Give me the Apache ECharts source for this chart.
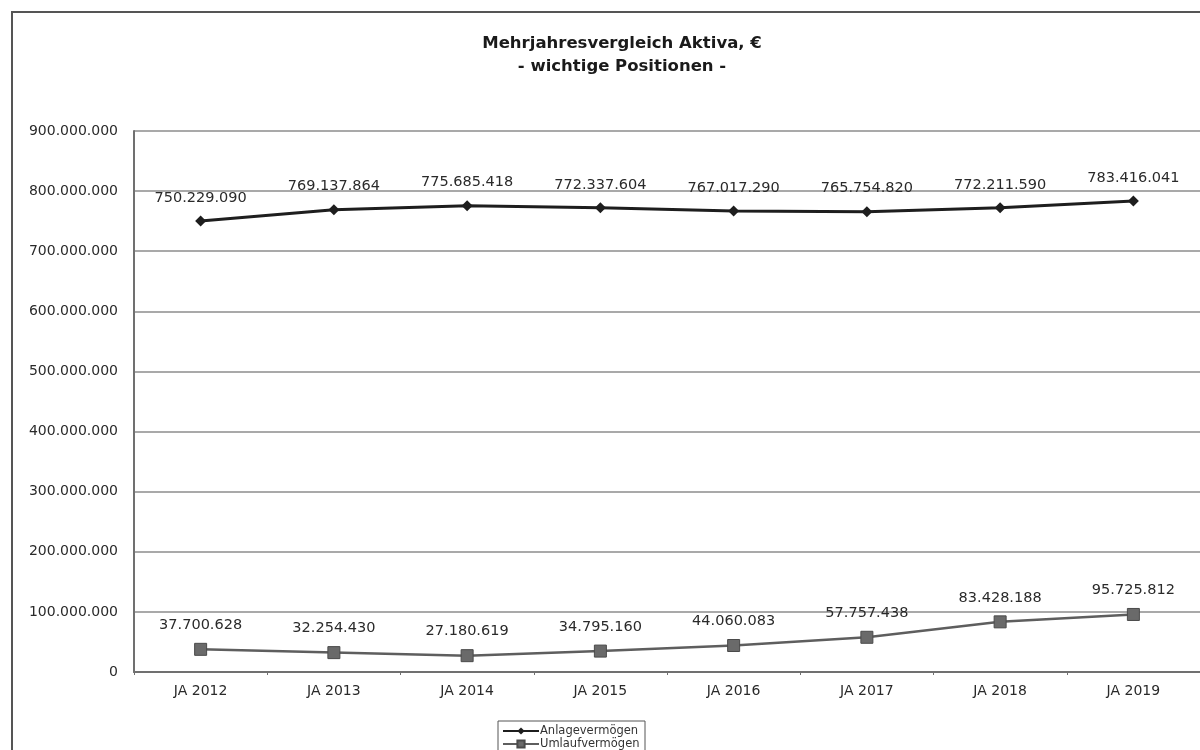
<!DOCTYPE html>
<html>
<head>
<meta charset="utf-8">
<script src="https://cdn.jsdelivr.net/npm/echarts@6/dist/echarts.min.js"></script>
<style>
  html, body { margin: 0; padding: 0; background: #fff; }
  #chart { width: 1200px; height: 750px; }
</style>
</head>
<body>
<div id="chart"></div>
<script>
// Jahresabschlüsse 2012–2019
const categories = ['JA 2012', 'JA 2013', 'JA 2014', 'JA 2015', 'JA 2016', 'JA 2017', 'JA 2018', 'JA 2019'];
const anlagevermoegen = [750229090, 769137864, 775685418, 772337604, 767017290, 765754820, 772211590, 783416041];
const umlaufvermoegen = [37700628, 32254430, 27180619, 34795160, 44060083, 57757438, 83428188, 95725812];
const seriesNames = ['Anlagevermögen', 'Umlaufvermögen'];
const titleLines = ['Mehrjahresvergleich Aktiva, €', '- wichtige Positionen -'];

// German thousands separator
function fmt(v) {
  return String(Math.round(v)).replace(/\B(?=(\d{3})+(?!\d))/g, '.');
}

const FONT = '"DejaVu Sans", Arial, sans-serif';
const chart = echarts.init(document.getElementById('chart'), null, { renderer: 'canvas' });

// one legend entry per row, stacked inside a framed box
const legendCommon = {
  left: 502,
  itemWidth: 36,
  itemHeight: 9,
  padding: 0,
  textStyle: { fontFamily: FONT, fontSize: 11.5, color: '#333', padding: [0, 0, 0, -4] }
};

chart.setOption({
  animation: false,
  backgroundColor: '#ffffff',
  textStyle: { fontFamily: FONT },
  title: {
    text: titleLines.join('\n'),
    left: 617,
    textAlign: 'center',
    top: 27,
    textStyle: { fontFamily: FONT, fontSize: 16.5, fontWeight: 'bold', color: '#1a1a1a', lineHeight: 23 }
  },
  graphic: [
    {
      type: 'rect',
      shape: { x: 12, y: 12, width: 1220, height: 780 },
      style: { fill: 'none', stroke: '#555', lineWidth: 2 },
      silent: true
    },
    {
      type: 'rect',
      shape: { x: 498, y: 721, width: 147, height: 40 },
      style: { fill: 'none', stroke: '#555', lineWidth: 1 },
      silent: true
    }
  ],
  legend: [
    Object.assign({ top: 725, data: [seriesNames[0]] }, legendCommon),
    Object.assign({ top: 738, data: [seriesNames[1]] }, legendCommon)
  ],
  grid: { left: 134, top: 131, width: 1067, height: 541, containLabel: false },
  xAxis: {
    type: 'category',
    data: categories,
    boundaryGap: true,
    axisLine: { lineStyle: { color: '#707070', width: 2 } },
    axisTick: { show: true, length: 3, lineStyle: { color: '#707070' } },
    axisLabel: { fontFamily: FONT, fontSize: 14, color: '#2a2a2a', margin: 12 }
  },
  yAxis: {
    type: 'value',
    min: 0,
    max: 900000000,
    interval: 100000000,
    axisLine: { show: true, lineStyle: { color: '#707070', width: 2 } },
    axisTick: { show: false },
    axisLabel: { fontFamily: FONT, fontSize: 14, color: '#2a2a2a', margin: 16, formatter: fmt },
    splitLine: { lineStyle: { color: '#8c8c8c', width: 1.5 } }
  },
  series: [
    {
      name: seriesNames[0],
      type: 'line',
      data: anlagevermoegen,
      symbol: 'diamond',
      symbolSize: 11,
      lineStyle: { color: '#1e1e1e', width: 3 },
      itemStyle: { color: '#1e1e1e' },
      label: {
        show: true, position: 'top', distance: 10,
        fontFamily: FONT, fontSize: 14.5, color: '#2a2a2a',
        formatter: p => fmt(p.value)
      }
    },
    {
      name: seriesNames[1],
      type: 'line',
      data: umlaufvermoegen,
      symbol: 'rect',
      symbolSize: 12,
      lineStyle: { color: '#5e5e5e', width: 2.5 },
      itemStyle: { color: '#6a6a6a', borderColor: '#4a4a4a', borderWidth: 1 },
      label: {
        show: true, position: 'top', distance: 10,
        fontFamily: FONT, fontSize: 14.5, color: '#2a2a2a',
        formatter: p => fmt(p.value)
      }
    }
  ]
});
</script>
</body>
</html>
